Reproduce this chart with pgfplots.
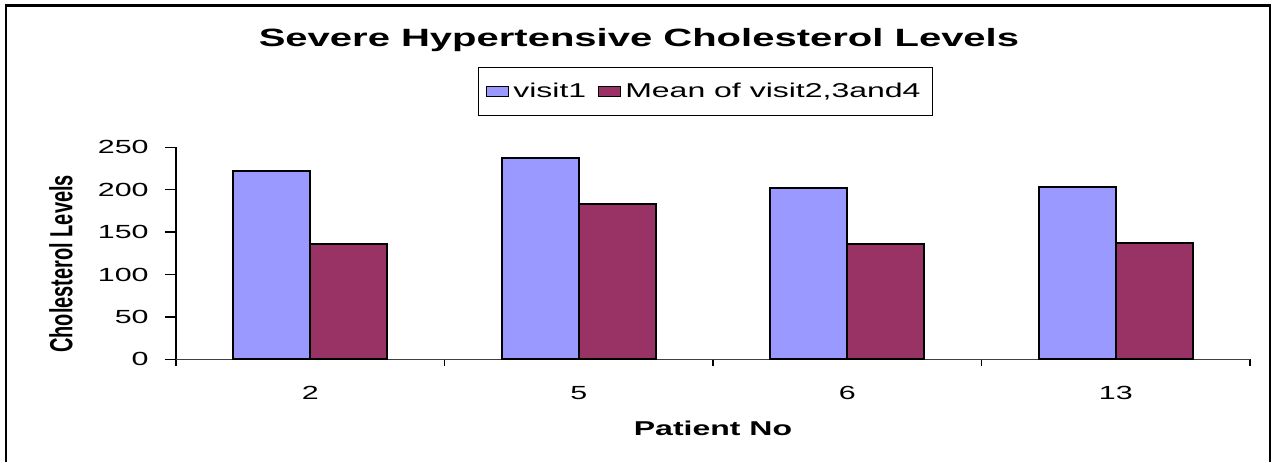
\documentclass[border=0pt]{standalone}
\usepackage{fontspec}
\setmainfont{Liberation Sans}
\usepackage{graphicx}
\usepackage{pgfplots}
\pgfplotsset{compat=1.18}
\newcommand{\sx}[1]{\scalebox{1.6}[1]{#1}}
\definecolor{vone}{HTML}{9999FF}
\definecolor{vmean}{HTML}{993366}
\begin{document}
\begin{tikzpicture}
\useasboundingbox (0,0) rectangle (637pt,-230.5pt);
\draw[line width=1.25pt] (3pt,-232pt) -- (3pt,-2.75pt) -- (635pt,-2.75pt) -- (635pt,-232pt);
\begin{axis}[
 at={(88pt,-179.65pt)}, anchor=south west,
 scale only axis, width=537pt, height=106pt,
 xmin=0.5, xmax=4.5, ymin=0, ymax=250,
 clip=false,
 axis lines*=left,
 /pgf/number format/assume math mode=true,
 x axis line style={draw=black!75, line width=0.5pt},
 y axis line style={draw=black, line width=0.75pt},
 tick align=outside,
 major tick length=3.5pt,
 tick style={draw=black, line width=0.75pt},
 ytick=\empty,
 extra y ticks={0,50,100,150,200,250},
 extra y tick style={major tick length=5.5pt},
 yticklabel={\sx{\pgfmathprintnumber{\tick}}},
 yticklabel style={font=\fontsize{9.5}{11}\selectfont, anchor=east, inner sep=0pt, xshift=-8pt},
 xtick={0.5,1.5,2.5,3.5,4.5},
 xticklabels={,,,,,},
 extra x ticks={1,2,3,4},
 extra x tick labels={\sx{2},\sx{5},\sx{6},\sx{13}},
 extra x tick style={major tick length=0pt, xticklabel style={font=\fontsize{9.5}{11}\selectfont, anchor=north, inner sep=0pt, yshift=-13.3pt}},
 ybar=0pt, bar width=38.5pt,
 title={\sx{Severe Hypertensive Cholesterol Levels}},
 every axis title/.style={at={(rel axis cs:0.5,1)}, anchor=center, yshift=53.65pt, xshift=-37pt, font=\fontsize{12.5}{15}\selectfont\bfseries},
 xlabel={\sx{Patient No}},
 every axis x label/.style={at={(rel axis cs:0.5,0)}, anchor=center, yshift=-34.35pt, font=\fontsize{10}{12}\selectfont\bfseries},
 ylabel={\scalebox{1}[1.6]{Cholesterol Levels}},
 every axis y label/.style={at={(rel axis cs:0,0.45)}, xshift=-57.5pt, anchor=center, rotate=90, font=\fontsize{10}{12}\selectfont\bfseries},
 legend columns=2,
 legend style={at={(0.493,1.263)}, anchor=center, draw=black, line width=0.6pt,
   font=\fontsize{10}{12}\selectfont, inner xsep=4pt, inner ysep=5.5pt,
   /tikz/every even column/.append style={column sep=4pt}},
 legend image code/.code={\draw[#1, line width=0.5pt] (0pt,-2.5pt) rectangle (11pt,2.5pt);},
]
\addplot[fill=vone, draw=black, line width=1pt] coordinates {(1,222) (2,237) (3,202) (4,203.5)};
\addlegendentry{\sx{visit1}}
\addplot[fill=vmean, draw=black, line width=1pt] coordinates {(1,136) (2,183) (3,136) (4,137.5)};
\addlegendentry{\sx{Mean of visit2,3and4}}
\end{axis}
\end{tikzpicture}
\end{document}
